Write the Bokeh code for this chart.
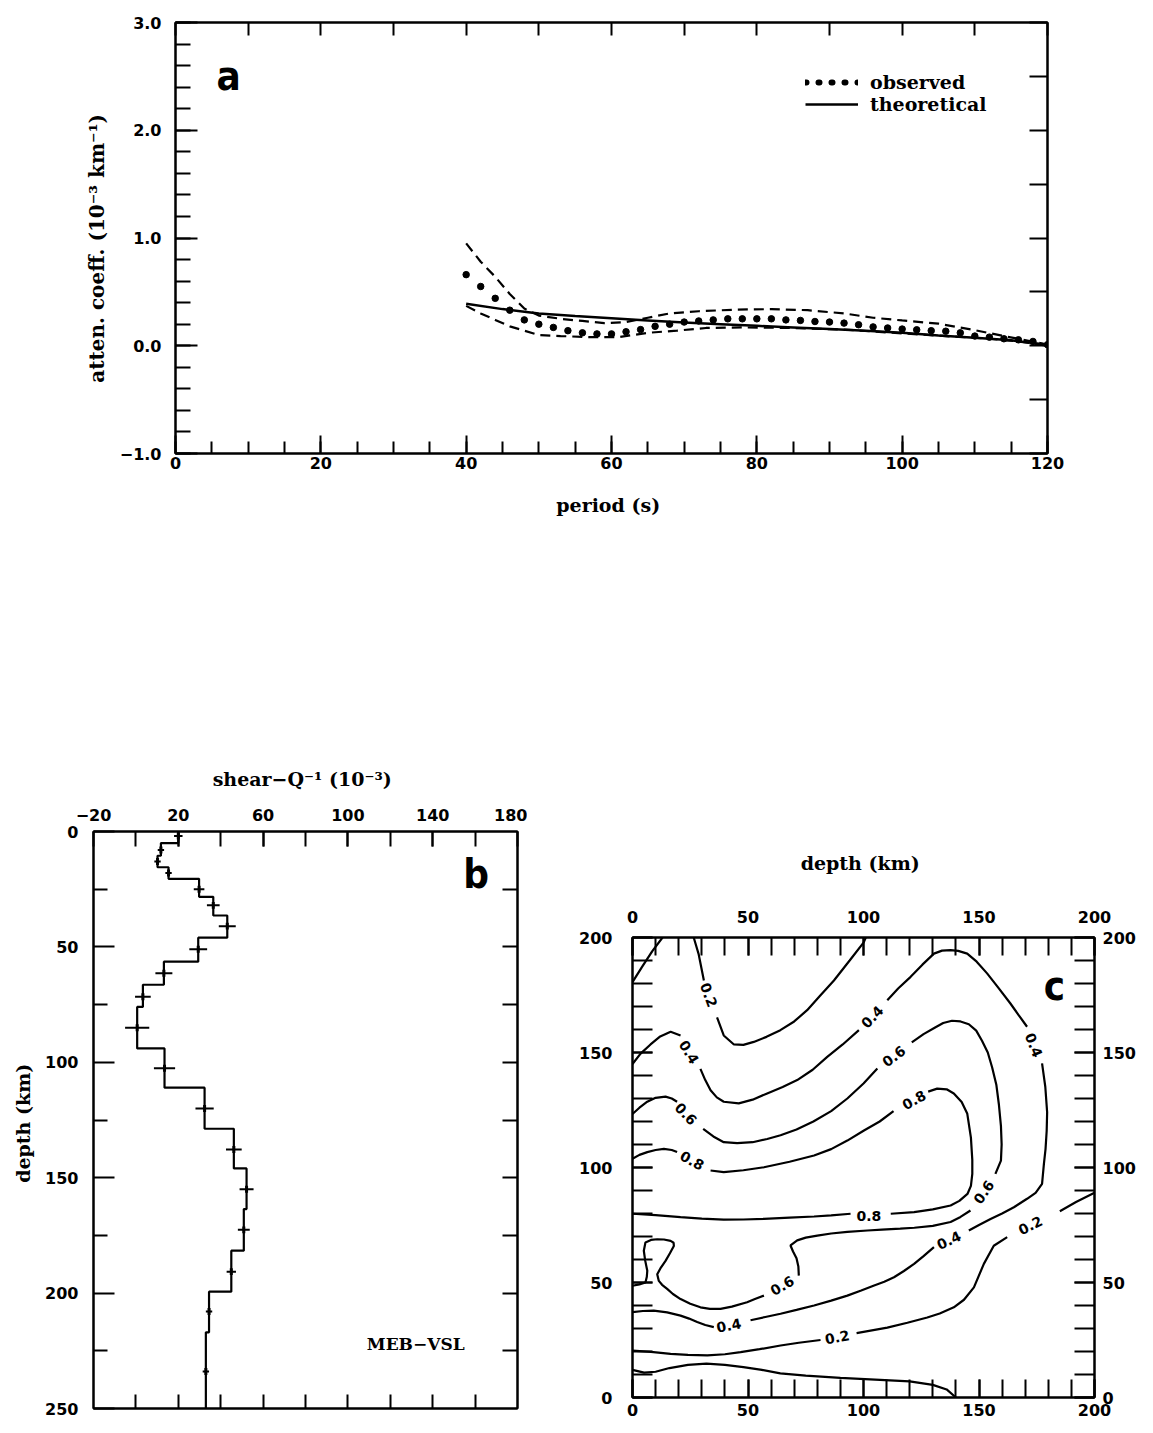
import math
from bokeh.plotting import figure
from bokeh.models import (Range1d, FixedTicker, LinearAxis, Label, Legend,
                          LegendItem, Spacer)
from bokeh.layouts import column, row
from bokeh.embed import file_html
from bokeh.resources import INLINE

# ---------------- Panel a data ----------------
obs_period = [40, 42, 44, 46, 48, 50, 52, 54, 56, 58, 60, 62, 64, 66, 68, 70, 72, 74,
              76, 78, 80, 82, 84, 86, 88, 90, 92, 94, 96, 98, 100, 102, 104, 106,
              108, 110, 112, 114, 116, 118, 120]
obs_atten = [0.66, 0.55, 0.44, 0.33, 0.24, 0.20, 0.17, 0.14, 0.12, 0.11, 0.11, 0.13,
             0.15, 0.18, 0.20, 0.22, 0.23, 0.24, 0.25, 0.25, 0.25, 0.25, 0.24, 0.235,
             0.225, 0.22, 0.21, 0.195, 0.175, 0.165, 0.155, 0.148, 0.14, 0.135, 0.12,
             0.09, 0.08, 0.065, 0.055, 0.04, 0.01]
theo_period = [40, 45, 50, 55, 60, 65, 70, 75, 80, 85, 90, 95, 100, 105, 110, 115, 120]
theo_atten = [0.39, 0.34, 0.30, 0.275, 0.255, 0.235, 0.215, 0.20, 0.185, 0.17, 0.155,
              0.14, 0.12, 0.095, 0.075, 0.05, 0.01]
upper_period = [40, 42, 44, 46, 48, 50, 53, 56, 59, 62, 65, 68, 72, 77, 82, 87, 92, 96,
                100, 105, 110, 114, 119, 120]
upper_atten = [0.95, 0.78, 0.64, 0.48, 0.345, 0.28, 0.25, 0.23, 0.21, 0.22, 0.26, 0.30,
               0.32, 0.335, 0.34, 0.33, 0.30, 0.26, 0.235, 0.205, 0.145, 0.09, 0.025, 0.01]
lower_period = [40, 42, 44, 46, 48, 50, 53, 57, 61, 63, 65, 69, 73, 78, 85, 92, 100, 106,
                112, 116, 120]
lower_atten = [0.37, 0.30, 0.24, 0.18, 0.14, 0.10, 0.09, 0.08, 0.08, 0.10, 0.12, 0.14,
               0.165, 0.17, 0.165, 0.15, 0.115, 0.09, 0.065, 0.04, 0.0]
a_xticks = [0, 20, 40, 60, 80, 100, 120]
a_xtick_labels = ["0", "20", "40", "60", "80", "100", "120"]
a_yticks = [-1.0, 0.0, 1.0, 2.0, 3.0]
a_ytick_labels = ["\u22121.0", "0.0", "1.0", "2.0", "3.0"]

# ---------------- Panel b data ----------------
b_layer_top = [0, 5, 10.5, 15.5, 20.5, 28.3, 36.4, 46, 56.4, 66.4, 76, 94, 111, 128.8,
               146, 163.6, 181.6, 199.4, 217]
b_layer_bottom_max = 250
b_q = [20, 11.8, 10.2, 15.4, 29.8, 36.5, 43.1, 29.4, 13.2, 3.3, 0.6, 13.5, 32.4, 46.2,
       52.2, 50.9, 45, 34.5, 33]
b_err_depth = [2, 8, 13, 18, 25, 32, 41, 51, 61.4, 71.6, 85, 102.6, 120, 137.8, 155,
               172.6, 190.7, 208, 234]
b_err_half = [2, 1.5, 1.5, 1.5, 2.5, 3, 4, 4.2, 4, 3.7, 5.7, 5, 4.3, 3.7, 3.3, 2.8, 2.2,
              1.5, 1.5]
b_xticks = [-20, 20, 60, 100, 140, 180]
b_xtick_labels = ["\u221220", "20", "60", "100", "140", "180"]
b_yticks = [0, 50, 100, 150, 200, 250]
b_ytick_labels = ["0", "50", "100", "150", "200", "250"]

# ---------------- Panel c data (contour lines, broken at labels) ----------------
c00_xs = [[0, 5, 10, 16, 24, 32, 40, 48, 56, 64, 75, 90, 105, 120, 130, 136, 140]]
c00_ys = [[12, 10.8, 11.2, 12.8, 14.2, 14.7, 14.2, 13.2, 12, 10.5, 9.5, 8.5, 7.8, 7,
           5.5, 3.5, 0]]
c02_xs = [[0, 4, 8.5, 13],
          [26.5, 28.6, 30.9],
          [36.6, 39.5, 43.9, 48, 52.5, 58, 64, 70, 75.6, 81, 87.2, 94, 100.1, 101],
          [200, 192, 185],
          [162.2, 156.4, 152.1, 147.8, 143.5, 139.1, 133, 127.6, 119, 110.3, 97],
          [81.4, 72, 64.1, 55, 46.8, 40, 32.4, 24, 16.5, 8, 0]]
c02_ys = [[180.6, 187, 194, 200],
          [200, 192.9, 181.3],
          [165.3, 157.4, 153.5, 153.3, 154.6, 156.8, 159.7, 163.5, 168.4, 174.5, 181.3,
           190, 197.9, 200],
          [89, 85, 81],
          [69.7, 66, 58.1, 47.9, 42.5, 39.2, 36.5, 34.8, 32.5, 30.4, 28],
          [25, 23.8, 22.6, 21, 19.7, 18.8, 18.3, 18.5, 19, 19.8, 20.4]]
c04_xs = [[0, 3.5, 7.8, 12, 16.5, 20.8],
          [29.4, 31.5, 33.8, 36.5, 39.5, 46, 52, 58.3, 65, 71.3, 78, 84.3, 91, 98],
          [110.3, 115, 120.4, 125.5, 130.5, 134, 137.7, 141, 144.9, 149, 153.5, 158.5,
           163.6, 167, 170.8],
          [177.3, 178.7, 179.5, 179.3, 178.8, 178.1, 177.3, 174.5, 170.8, 165.1, 160,
           155, 150, 145.6],
          [130.5, 126, 121.9, 117.5, 113.2, 109, 104.6, 99, 93, 86, 78.6, 71, 64.1,
           57.5, 51.1],
          [35.2, 31.5, 28, 24.5, 20.8, 15, 9.2, 4.5, 0]]
c04_ys = [[145, 149.5, 153.5, 157, 159, 157.4],
          [142.9, 138, 133.6, 130.5, 128.6, 127.9, 129.5, 132.2, 135, 138, 142.5, 148.1,
           153.5, 159.7],
          [172.7, 177.8, 182.9, 188.2, 193, 194.3, 194.5, 194.2, 193, 189.5, 184.4, 178,
           171.3, 166.5, 161.2],
          [145.3, 135.1, 124, 116, 108, 101.6, 92.9, 89, 86.4, 82.7, 80, 77.6, 75, 72.6],
          [65.4, 61.5, 58.1, 55, 52.3, 50.3, 48.7, 46.5, 44.3, 42.1, 40, 38.1, 36.4, 35,
           33.6],
          [30.6, 31.5, 32.8, 34.3, 35.6, 37, 37.8, 37.6, 37.1]]
c06_xs = [[0, 3, 6.4, 10, 14.3, 17, 19.3],
          [30.6, 35, 39.5, 45.3, 52, 58.3, 64.1, 71, 78.3, 86, 93, 100, 106],
          [120.9, 126, 131, 134.5, 138.3, 142, 145.6, 148.8, 151.3, 153.8, 155.7, 157.5,
           158.6, 159.5, 159.8, 159.5, 157.1],
          [146.3, 142, 137.7, 130, 122, 115.9, 108, 101.7, 93, 86, 80, 75, 71.3, 68.4,
           69.5, 71, 71.8, 72],
          [56.9, 53, 49.6, 43, 38.1, 33.5, 29.4, 25, 20.8, 17.5, 15, 12.8, 11.4, 10.7,
           12.3, 14.3, 16.2, 17.9, 17.8, 16.5, 13.6, 10.7, 8, 5.6, 4.9, 5.5, 6.4, 6.2,
           5.6, 3, 0]]
c06_ys = [[123.3, 126, 128.6, 130.3, 130.8, 130, 128.6],
          [116.8, 113.5, 111, 110.6, 111, 112.4, 114, 116.5, 120, 124.5, 130, 136.5, 143],
          [154.4, 158, 160.9, 162.8, 163.8, 163.5, 162.3, 159.5, 155.1, 150, 143.5, 136,
           127.5, 118, 110, 103, 97.2],
          [81.3, 78.5, 76.3, 74.6, 73.8, 73.4, 73, 72.6, 72, 71.3, 70.4, 69.5, 68.3,
           66.1, 63.5, 60.5, 57, 53],
          [44.3, 42.8, 41.4, 39.5, 38.5, 38.5, 39.2, 40.8, 42.8, 45, 47.2, 49, 50.7,
           53.6, 56.5, 59.4, 62.7, 65.9, 67.3, 68.1, 68.7, 68.8, 68.5, 67.4, 63.8, 59.5,
           55.1, 52.5, 50, 49.2, 48.6]]
c08_xs = [[0, 3, 6.4, 10, 13.6, 17, 19.3],
          [33.8, 39.5, 48, 56.9, 68, 78.6, 86, 93, 100.2, 107, 113],
          [128, 131.9, 136, 139.1, 142.5, 144.9, 146.5, 147.1, 147.1, 146.5, 145, 141.5,
           137.7, 130, 121.9, 111.8],
          [94.4, 86, 78.6, 68, 56.9, 48, 39.5, 30, 20.8, 10, 0]]
c08_ys = [[103.8, 105.5, 106.7, 107.6, 108.1, 107.6, 106.7],
          [98.7, 98, 98.8, 100.1, 102.5, 105.2, 108, 111.7, 116.1, 120, 124.5],
          [133, 134.3, 134, 132.2, 128.5, 123.5, 113, 103.3, 97.2, 92, 88.5, 85.5, 83.5,
           81.8, 80.6, 79.9],
          [79.9, 79.2, 78.7, 78.2, 77.7, 77.4, 77.3, 77.8, 78.4, 79.3, 79.9]]
clabel_text = ["0.2", "0.4", "0.6", "0.8", "0.4", "0.4", "0.6", "0.8", "0.6", "0.8",
               "0.4", "0.2", "0.6", "0.4", "0.2"]
clabel_x = [33, 24.4, 23.1, 25.8, 103.8, 173.7, 113.2, 121.9, 152.1, 102.3, 137, 172.3,
            64.8, 41.7, 88.6]
clabel_y = [175, 150.1, 123.3, 103, 165.5, 153.2, 148.3, 129.3, 89.3, 79.1, 68.3, 74.8,
            48.6, 31.3, 26.2]
clabel_angle_deg = [-70, -59, -46, -29, 46, -68, 37, 29, 56, 0, 25, 26, 30, 11, 11]
c_ticks = [0, 50, 100, 150, 200]
c_tick_labels = ["0", "50", "100", "150", "200"]

# ---------------- styling helpers ----------------
TICK_FONT = "DejaVu Sans"
TITLE_FONT = "DejaVu Serif"
LETTER_FONT = "DejaVu Sans Condensed"
TICK_SIZE = "16px"
TITLE_SIZE = "19px"


def frame_style(p):
    p.xgrid.visible = False
    p.ygrid.visible = False
    p.outline_line_color = "black"
    p.outline_line_width = 2
    p.outline_line_alpha = 1
    p.background_fill_color = "white"
    p.border_fill_color = "white"


def style_axis(ax, ticks, minor, major_len, minor_len, labels=None, standoff=10,
               title_standoff=10):
    ax.ticker = FixedTicker(ticks=list(ticks), minor_ticks=list(minor))
    ax.axis_line_color = "black"
    ax.axis_line_width = 2
    ax.major_tick_in = major_len
    ax.major_tick_out = 0
    ax.minor_tick_in = minor_len
    ax.minor_tick_out = 0
    ax.major_tick_line_width = 2
    ax.minor_tick_line_width = 2
    ax.major_tick_line_color = "black"
    ax.minor_tick_line_color = "black"
    if labels is None:
        ax.major_label_overrides = {float(t): "" for t in ticks}
        ax.major_label_text_font_size = "0px"
        ax.major_label_standoff = 0
    else:
        ax.major_label_overrides = {float(t): l for t, l in zip(ticks, labels)}
        ax.major_label_text_font = TICK_FONT
        ax.major_label_text_font_style = "bold"
        ax.major_label_text_font_size = TICK_SIZE
        ax.major_label_text_color = "black"
        ax.major_label_standoff = standoff
    ax.axis_label_text_font = TITLE_FONT
    ax.axis_label_text_font_style = "bold"
    ax.axis_label_text_font_size = TITLE_SIZE
    ax.axis_label_text_color = "black"
    ax.axis_label_standoff = title_standoff


def frange(a, b, step):
    out = []
    v = a
    while v <= b + 1e-9:
        out.append(round(v, 6))
        v += step
    return out

# ---------------- Panel a ----------------
pa = figure(width=1067, height=533, x_range=Range1d(0, 120), y_range=Range1d(-1, 3),
            output_backend="svg", toolbar_location=None,
            min_border_left=175, min_border_right=20, min_border_top=22,
            min_border_bottom=80)
frame_style(pa)
style_axis(pa.xaxis[0], a_xticks, frange(0, 120, 5), 18, 12, a_xtick_labels,
           standoff=3, title_standoff=22)
pa.xaxis[0].axis_label = "period  (s)"
style_axis(pa.yaxis[0], a_yticks, frange(-1, 3, 0.2), 22, 15, a_ytick_labels,
           standoff=14, title_standoff=8)
pa.yaxis[0].axis_label = "atten.  coeff.  (10\u207b\u00b3  km\u207b\u00b9)"
pa.yaxis[0].axis_label_text_font_size = "20px"
top_a = LinearAxis()
style_axis(top_a, frange(0, 120, 10), [], 13, 0)
pa.add_layout(top_a, "above")
right_a = LinearAxis()
style_axis(right_a, frange(-1, 3, 0.5), [], 18, 0)
pa.add_layout(right_a, "right")

pa.line(upper_period, upper_atten, line_color="black", line_width=2.2, line_dash="10 6")
pa.line(lower_period, lower_atten, line_color="black", line_width=2.2, line_dash="10 6")
r_theo = pa.line(theo_period, theo_atten, line_color="black", line_width=2.5)
pa.scatter(obs_period, obs_atten, size=6.5, color="black")

# hidden dotted-line proxy of the observed series, used only for the legend swatch
r_obs_leg = pa.line(obs_period, obs_atten, line_color="black", line_width=6,
                    line_dash="1 12", line_cap="round", visible=False)
legend = Legend(items=[LegendItem(label="observed", renderers=[r_obs_leg]),
                       LegendItem(label="theoretical", renderers=[r_theo])],
                location=(630, 338), orientation="vertical", glyph_width=53,
                glyph_height=20, label_height=20, label_standoff=12, spacing=0,
                padding=0, margin=0, border_line_alpha=0, background_fill_alpha=0,
                inactive_fill_alpha=0, click_policy="none",
                label_text_font=TITLE_FONT, label_text_font_style="bold",
                label_text_font_size="19px", label_text_color="black")
pa.add_layout(legend)
pa.add_layout(Label(x=7.3, y=2.5, text="a", text_font=LETTER_FONT,
                    text_font_style="bold", text_font_size="40px",
                    text_align="center", text_baseline="middle", text_color="black"))

# ---------------- Panel b ----------------
pb = figure(width=527, height=690, x_range=Range1d(-20, 180), y_range=Range1d(250, 0),
            x_axis_location="above", output_backend="svg", toolbar_location=None,
            min_border_left=93, min_border_right=10, min_border_top=101,
            min_border_bottom=12)
frame_style(pb)
style_axis(pb.xaxis[0], b_xticks, frange(0, 160, 20), 15, 15, b_xtick_labels,
           standoff=11, title_standoff=16)
pb.xaxis[0].axis_label = "shear\u2212Q\u207b\u00b9  (10\u207b\u00b3)"
style_axis(pb.yaxis[0], b_yticks, frange(25, 225, 50), 21, 14, b_ytick_labels,
           standoff=15, title_standoff=8)
pb.yaxis[0].axis_label = "depth  (km)"
bot_b = LinearAxis()
style_axis(bot_b, frange(0, 160, 20), [], 14, 0)
pb.add_layout(bot_b, "below")
right_b = LinearAxis()
style_axis(right_b, frange(25, 225, 25), [], 15, 0)
pb.add_layout(right_b, "right")

# step profile built from the layer arrays
step_x, step_y = [], []
for i, q in enumerate(b_q):
    top = b_layer_top[i]
    bot = b_layer_top[i + 1] if i + 1 < len(b_layer_top) else b_layer_bottom_max
    step_x += [q, q]
    step_y += [top, bot]
pb.line(step_x, step_y, line_color="black", line_width=2.2)
pb.segment(x0=[q - e for q, e in zip(b_q, b_err_half)], y0=b_err_depth,
           x1=[q + e for q, e in zip(b_q, b_err_half)], y1=b_err_depth,
           line_color="black", line_width=2)
pb.segment(x0=b_q, y0=[d - 1.5 for d in b_err_depth], x1=b_q,
           y1=[d + 1.5 for d in b_err_depth], line_color="black", line_width=3)
pb.add_layout(Label(x=132, y=222, text="MEB\u2212VSL", text_font=TITLE_FONT,
                    text_font_style="bold", text_font_size="17px",
                    text_align="center", text_baseline="middle", text_color="black"))
pb.add_layout(Label(x=160.5, y=18.5, text="b", text_font=LETTER_FONT,
                    text_font_style="bold", text_font_size="40px",
                    text_align="center", text_baseline="middle", text_color="black"))

# ---------------- Panel c ----------------
pc = figure(width=592, height=692, x_range=Range1d(0, 200), y_range=Range1d(0, 200),
            x_axis_location="above", output_backend="svg", toolbar_location=None,
            min_border_left=80, min_border_right=50, min_border_top=207,
            min_border_bottom=25)
frame_style(pc)
c_minor = frange(0, 200, 10)
style_axis(pc.xaxis[0], c_ticks, c_minor, 18, 18, c_tick_labels, standoff=15,
           title_standoff=34)
pc.xaxis[0].axis_label = "depth  (km)"
style_axis(pc.yaxis[0], c_ticks, c_minor, 20, 20, c_tick_labels, standoff=20)
bot_c = LinearAxis()
style_axis(bot_c, c_ticks, c_minor, 18, 18, c_tick_labels, standoff=6)
pc.add_layout(bot_c, "below")
right_c = LinearAxis()
style_axis(right_c, c_ticks, c_minor, 20, 20, c_tick_labels, standoff=8)
pc.add_layout(right_c, "right")

for xs, ys in [(c00_xs, c00_ys), (c02_xs, c02_ys), (c04_xs, c04_ys),
               (c06_xs, c06_ys), (c08_xs, c08_ys)]:
    pc.multi_line(xs, ys, line_color="black", line_width=2.2)
pc.text(x=clabel_x, y=clabel_y, text=clabel_text,
        angle=[math.radians(a) for a in clabel_angle_deg],
        text_font_size="14px", text_font_style="bold", text_align="center",
        text_baseline="middle", text_color="black",
        text_font={"value": TICK_FONT})
pc.add_layout(Label(x=182.7, y=178.7, text="c", text_font=LETTER_FONT,
                    text_font_style="bold", text_font_size="40px",
                    text_align="center", text_baseline="middle", text_color="black"))

layout = column(pa, Spacer(height=197),
                row(column(pb), Spacer(width=25), column(pc)))
open("out.html", "w").write(file_html(layout, INLINE))
